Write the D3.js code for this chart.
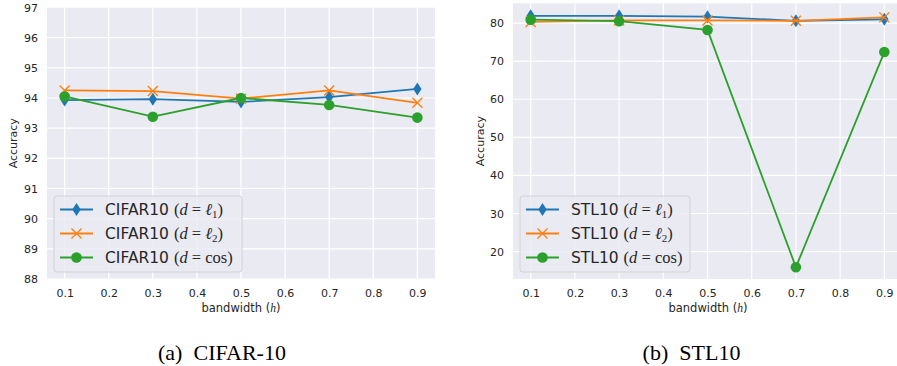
<!DOCTYPE html>
<html>
<head>
<meta charset="utf-8">
<script src="https://cdn.jsdelivr.net/npm/d3@7"></script>
<style>
  body { margin: 0; background: #fff; }
  svg { display: block; }
</style>
</head>
<body>
<div id="chart"></div>
<script>
// bandwidth values shared by both panels
const bandwidth = [0.1, 0.3, 0.5, 0.7, 0.9]
const xTicks = [0.1, 0.2, 0.3, 0.4, 0.5, 0.6, 0.7, 0.8, 0.9]

// CIFAR-10 accuracies
const cifarL1 = [93.93, 93.96, 93.87, 94.03, 94.30]
const cifarL2 = [94.25, 94.23, 93.98, 94.25, 93.84]
const cifarCos = [94.05, 93.38, 94.00, 93.77, 93.35]
const cifarTicks = [88, 89, 90, 91, 92, 93, 94, 95, 96, 97]

// STL10 accuracies
const stlL1 = [81.9, 81.9, 81.7, 80.6, 81.0]
const stlL2 = [80.3, 80.7, 80.7, 80.6, 81.5]
const stlCos = [80.9, 80.5, 78.2, 15.9, 72.4]
const stlTicks = [20, 30, 40, 50, 60, 70, 80]

const colors = ["#1f77b4", "#ff7f0e", "#2ca02c"]
const markers = ["diamond", "x", "circle"]
const distLabels = [
  [{ t: "ℓ", i: true }, { t: "1", sub: true }],
  [{ t: "ℓ", i: true }, { t: "2", sub: true }],
  [{ t: "cos" }]
]

const W = 897, H = 366
const svg = d3.select("#chart").append("svg")
  .attr("width", W)
  .attr("height", H)
svg.append("rect").attr("width", W).attr("height", H).attr("fill", "#fff")

const textColor = "#262626"
const sans = "'DejaVu Sans', sans-serif"
const serif = "'Liberation Serif', 'DejaVu Serif', serif"

function drawMarker(g, type, color) {
  if (type === "diamond") {
    g.append("path")
      .attr("d", "M0,-6.5 L4.2,0 L0,6.5 L-4.2,0 Z")
      .attr("fill", color)
  } else if (type === "x") {
    g.append("path")
      .attr("d", "M-5,-5 L5,5 M-5,5 L5,-5")
      .attr("stroke", color)
      .attr("stroke-width", 1.3)
      .attr("fill", "none")
  } else {
    g.append("circle").attr("r", 5.3).attr("fill", color)
  }
}

function drawPanel(opts) {
  const { left, right, top, bottom, yDomain, yTicks, series, name, caption, labelX } = opts

  const x = d3.scaleLinear().domain([0.06, 0.94]).range([left, right])
  const y = d3.scaleLinear().domain(yDomain).range([bottom, top])

  const clipId = "clip-" + name
  svg.append("clipPath").attr("id", clipId)
    .append("rect")
    .attr("x", left).attr("y", top)
    .attr("width", right - left).attr("height", bottom - top)

  svg.append("rect")
    .attr("x", left).attr("y", top)
    .attr("width", right - left).attr("height", bottom - top)
    .attr("fill", "#eaeaf2")

  const g = svg.append("g").attr("clip-path", `url(#${clipId})`)

  // grid
  g.selectAll(".gx")
    .data(xTicks)
    .enter().append("line")
    .attr("x1", d => x(d)).attr("x2", d => x(d))
    .attr("y1", top).attr("y2", bottom)
    .attr("stroke", "#fff").attr("stroke-width", 1.2)

  g.selectAll(".gy")
    .data(yTicks)
    .enter().append("line")
    .attr("y1", d => y(d)).attr("y2", d => y(d))
    .attr("x1", left).attr("x2", right)
    .attr("stroke", "#fff").attr("stroke-width", 1.2)

  // axes (tick labels only, seaborn style)
  const xAxis = svg.append("g")
    .attr("transform", `translate(0,${bottom})`)
    .call(d3.axisBottom(x).tickValues(xTicks).tickFormat(d3.format(".1f")).tickSize(0).tickPadding(10))
  const yAxis = svg.append("g")
    .attr("transform", `translate(${left},0)`)
    .call(d3.axisLeft(y).tickValues(yTicks).tickFormat(d3.format("d")).tickSize(0).tickPadding(9))
  ;[xAxis, yAxis].forEach(a => {
    a.select(".domain").remove()
    a.selectAll("text")
      .attr("fill", textColor)
      .attr("font-family", sans)
      .attr("font-size", 11)
  })

  // axis titles
  const xl = svg.append("text")
    .attr("x", opts.xLabelX)
    .attr("y", bottom + 33)
    .attr("text-anchor", "middle")
    .attr("font-family", sans)
    .attr("font-size", 11.5)
    .attr("fill", textColor)
  xl.append("tspan").text("bandwidth (")
  xl.append("tspan").attr("font-family", serif).attr("font-style", "italic").text("h")
  xl.append("tspan").text(")")

  svg.append("text")
    .attr("transform", `translate(${labelX},${(top + bottom) / 2}) rotate(-90)`)
    .attr("text-anchor", "middle")
    .attr("font-family", sans)
    .attr("font-size", 11)
    .attr("fill", textColor)
    .text("Accuracy")

  // lines + markers
  const line = d3.line()
    .x((d, i) => x(bandwidth[i]))
    .y(d => y(d))

  series.forEach((vals, si) => {
    const sg = g.append("g")
    sg.append("path")
      .datum(vals)
      .attr("d", line)
      .attr("fill", "none")
      .attr("stroke", colors[si])
      .attr("stroke-width", 1.8)
    vals.forEach((v, i) => {
      const m = sg.append("g").attr("transform", `translate(${x(bandwidth[i])},${y(v)})`)
      drawMarker(m, markers[si], colors[si])
    })
  })

  // legend
  const lg = svg.append("g").attr("transform", `translate(${left + 7},${opts.legendTop})`)
  lg.append("rect")
    .attr("width", opts.legendWidth).attr("height", 76)
    .attr("rx", 3)
    .attr("fill", "#eaeaf2").attr("fill-opacity", 0.8)
    .attr("stroke", "#cccccc").attr("stroke-width", 0.8)

  series.forEach((vals, si) => {
    const cy = 13.5 + si * 24
    lg.append("line")
      .attr("x1", 6).attr("x2", 39)
      .attr("y1", cy).attr("y2", cy)
      .attr("stroke", colors[si]).attr("stroke-width", 1.8)
    drawMarker(lg.append("g").attr("transform", `translate(22.5,${cy})`), markers[si], colors[si])

    const t = lg.append("text")
      .attr("x", 51).attr("y", cy + 5.5)
      .attr("font-family", sans)
      .attr("font-size", 15.5)
      .attr("fill", textColor)
    t.append("tspan").text(name + " ")
    t.append("tspan").attr("font-family", serif).attr("font-size", 16.5).text("(")
    t.append("tspan").attr("font-family", serif).attr("font-style", "italic").attr("font-size", 16.5).text("d")
    t.append("tspan").attr("font-family", serif).attr("font-size", 16.5).text(" = ")
    distLabels[si].forEach(p => {
      const ts = t.append("tspan").attr("font-family", serif).attr("font-size", p.sub ? 11 : 16.5)
      if (p.i) ts.attr("font-style", "italic")
      if (p.sub) ts.attr("dy", 3)
      ts.text(p.t)
    })
    const close = t.append("tspan").attr("font-family", serif).attr("font-size", 16.5)
    if (si < 2) close.attr("dy", -3)
    close.text(")")
  })

  // caption
  const cap = svg.append("text")
    .attr("x", opts.captionX)
    .attr("y", 360)
    .attr("text-anchor", "middle")
    .attr("font-family", serif)
    .attr("font-size", 22)
    .attr("fill", "#000")
  cap.append("tspan").text(caption[0])
  cap.append("tspan").attr("dx", 11).text(caption[1])
}

drawPanel({
  left: 47, right: 435, top: 7.5, bottom: 279,
  yDomain: [88, 97], yTicks: cifarTicks,
  series: [cifarL1, cifarL2, cifarCos],
  name: "CIFAR10", caption: ["(a)", "CIFAR-10"],
  labelX: 17, legendTop: 196, legendWidth: 188,
  captionX: 222, xLabelX: 241
})

drawPanel({
  left: 513, right: 902, top: 3.3, bottom: 279,
  yDomain: [12.8, 85.2], yTicks: stlTicks,
  series: [stlL1, stlL2, stlCos],
  name: "STL10", caption: ["(b)", "STL10"],
  labelX: 484, legendTop: 196, legendWidth: 170,
  captionX: 691.5, xLabelX: 708
})
</script>
</body>
</html>
